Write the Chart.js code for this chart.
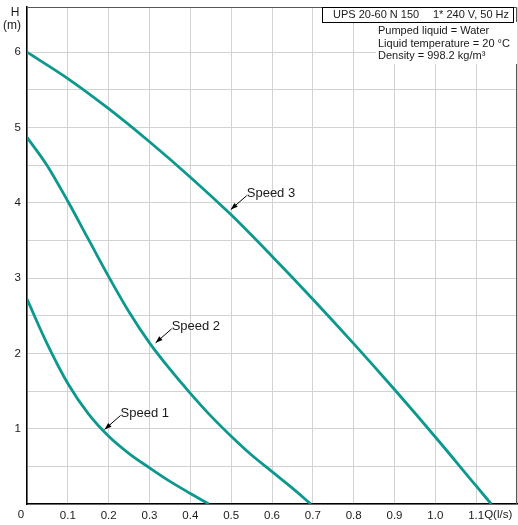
<!DOCTYPE html>
<html>
<head>
<meta charset="utf-8">
<script src="https://cdn.jsdelivr.net/npm/chart.js@4"></script>
<style>
html, body { margin: 0; padding: 0; background: #fff; }
</style>
</head>
<body>
<canvas id="pumpChart" width="518" height="525"></canvas>
<script>
// curve readings, Q in l/s and H in m
const speed1Q = [0, 0.05, 0.1, 0.15, 0.2, 0.25, 0.3, 0.35, 0.4, 0.445];
const speed1H = [2.72, 2.12, 1.60, 1.20, 0.90, 0.67, 0.48, 0.30, 0.14, 0];
const speed2Q = [0, 0.05, 0.1, 0.15, 0.2, 0.25, 0.3, 0.35, 0.4, 0.45, 0.5, 0.55, 0.6, 0.65, 0.695];
const speed2H = [4.87, 4.49, 4.02, 3.52, 3.02, 2.55, 2.14, 1.79, 1.47, 1.17, 0.90, 0.65, 0.43, 0.21, 0];
const speed3Q = [0, 0.1, 0.2, 0.3, 0.4, 0.5, 0.6, 0.7, 0.8, 0.9, 1.0, 1.1, 1.137];
const speed3H = [6.0, 5.65, 5.25, 4.81, 4.34, 3.84, 3.29, 2.72, 2.13, 1.52, 0.89, 0.24, 0];

const noteText = ["Speed 1", "Speed 2", "Speed 3"];
const noteQ = [0.19, 0.315, 0.499];
const noteH = [0.99, 2.14, 3.91];

const infoTitleLeft = "UPS 20-60 N 150";
const infoTitleRight = "1* 240 V, 50 Hz";
const infoLines = ["Pumped liquid = Water", "Liquid temperature = 20 °C", "Density = 998.2 kg/m³"];

const FONT = "'Liberation Sans', Arial, sans-serif";
const TEAL = "#0b988e";
const TXT = "#1a1a1a";

const pts = (qs, hs) => qs.map((q, i) => ({ x: q, y: hs[i] }));

const extras = {
    id: "extras",
    afterDraw(chart) {
        const { ctx, chartArea: a, scales: { x, y } } = chart;
        ctx.save();
        // top and right frame
        ctx.strokeStyle = "#555";
        ctx.lineWidth = 1;
        ctx.beginPath();
        ctx.moveTo(a.left, a.top + 0.5);
        ctx.lineTo(a.right - 0.5, a.top + 0.5);
        ctx.lineTo(a.right - 0.5, a.bottom);
        ctx.stroke();

        ctx.fillStyle = TXT;
        ctx.font = "12px " + FONT;
        ctx.textAlign = "center";
        ctx.textBaseline = "middle";
        ctx.fillText("H", 15, 13);
        ctx.fillText("(m)", 12, 26);

        // x axis: "0" sits left of the axis, unit follows 1.1
        ctx.font = "11.5px " + FONT;
        ctx.fillText("0", x.getPixelForValue(0) - 6, 515);
        ctx.textAlign = "left";
        const p11 = x.getPixelForValue(1.1) + ctx.measureText("1.1").width / 2;
        ctx.fillText("Q(l/s)", p11, 515);

        // info box
        ctx.fillStyle = "#fff";
        ctx.fillRect(376, 22, a.right - 376, 42);
        ctx.fillRect(322, 7, 192, 15);
        ctx.strokeStyle = "#000";
        ctx.strokeRect(322.5, 7.5, 191, 15);
        ctx.fillStyle = TXT;
        ctx.font = "11px " + FONT;
        ctx.textAlign = "left";
        ctx.fillText(infoTitleLeft, 333, 15);
        ctx.textAlign = "right";
        ctx.fillText(infoTitleRight, 509, 15);
        ctx.textAlign = "left";
        infoLines.forEach((t, i) => ctx.fillText(t, 378, 31 + i * 12.6));

        // speed labels with arrows
        ctx.font = "13px " + FONT;
        noteText.forEach((t, i) => {
            const tx = x.getPixelForValue(noteQ[i]);
            const ty = y.getPixelForValue(noteH[i]);
            const sx = tx + 16, sy = ty - 14;
            ctx.strokeStyle = "#000";
            ctx.lineWidth = 1;
            ctx.beginPath();
            ctx.moveTo(sx, sy);
            ctx.lineTo(tx, ty);
            ctx.stroke();
            const ang = Math.atan2(ty - sy, tx - sx);
            ctx.beginPath();
            ctx.moveTo(tx, ty);
            ctx.lineTo(tx - 7 * Math.cos(ang) + 2.5 * Math.sin(ang), ty - 7 * Math.sin(ang) - 2.5 * Math.cos(ang));
            ctx.lineTo(tx - 7 * Math.cos(ang) - 2.5 * Math.sin(ang), ty - 7 * Math.sin(ang) + 2.5 * Math.cos(ang));
            ctx.closePath();
            ctx.fillStyle = "#000";
            ctx.fill();
            ctx.fillStyle = TXT;
            ctx.fillText(t, tx + 16, ty - 16);
        });
        ctx.restore();
    }
};

new Chart(document.getElementById("pumpChart"), {
    type: "scatter",
    data: {
        datasets: [
            { data: pts(speed1Q, speed1H) },
            { data: pts(speed2Q, speed2H) },
            { data: pts(speed3Q, speed3H) }
        ].map(d => Object.assign(d, {
            showLine: true, borderColor: TEAL, borderWidth: 2.8, pointRadius: 0,
            cubicInterpolationMode: "monotone", borderJoinStyle: "round", fill: false
        }))
    },
    options: {
        responsive: false, animation: false, devicePixelRatio: 1,
        layout: { padding: { top: 7, right: 1, left: 0, bottom: 0 } },
        plugins: { legend: { display: false }, tooltip: { enabled: false } },
        scales: {
            x: {
                type: "linear", min: 0, max: 1.2,
                afterFit: s => { s.height = 21; s.paddingLeft = 0; s.paddingRight = 0; },
                grid: { color: "#d3d3d3", drawTicks: false },
                border: { color: "#000", width: 1.5 },
                ticks: {
                    stepSize: 0.1, padding: 5, color: TXT, maxRotation: 0, autoSkip: false,
                    font: { family: FONT, size: 11.5 },
                    callback: v => (v > 0.05 && v < 1.15) ? v.toFixed(1) : ""
                }
            },
            y: {
                type: "linear", min: 0, max: 6.6,
                afterFit: s => { s.width = 27; s.paddingTop = 0; s.paddingBottom = 0; },
                grid: { color: "#d3d3d3", drawTicks: false },
                border: { color: "#000", width: 1.5 },
                ticks: {
                    stepSize: 0.5, padding: 6, color: TXT, autoSkip: false,
                    font: { family: FONT, size: 11.5 },
                    callback: v => (Math.abs(v - Math.round(v)) < 0.01 && v > 0.5 && v < 6.3) ? String(Math.round(v)) : ""
                }
            }
        }
    },
    plugins: [extras]
});
</script>
</body>
</html>
